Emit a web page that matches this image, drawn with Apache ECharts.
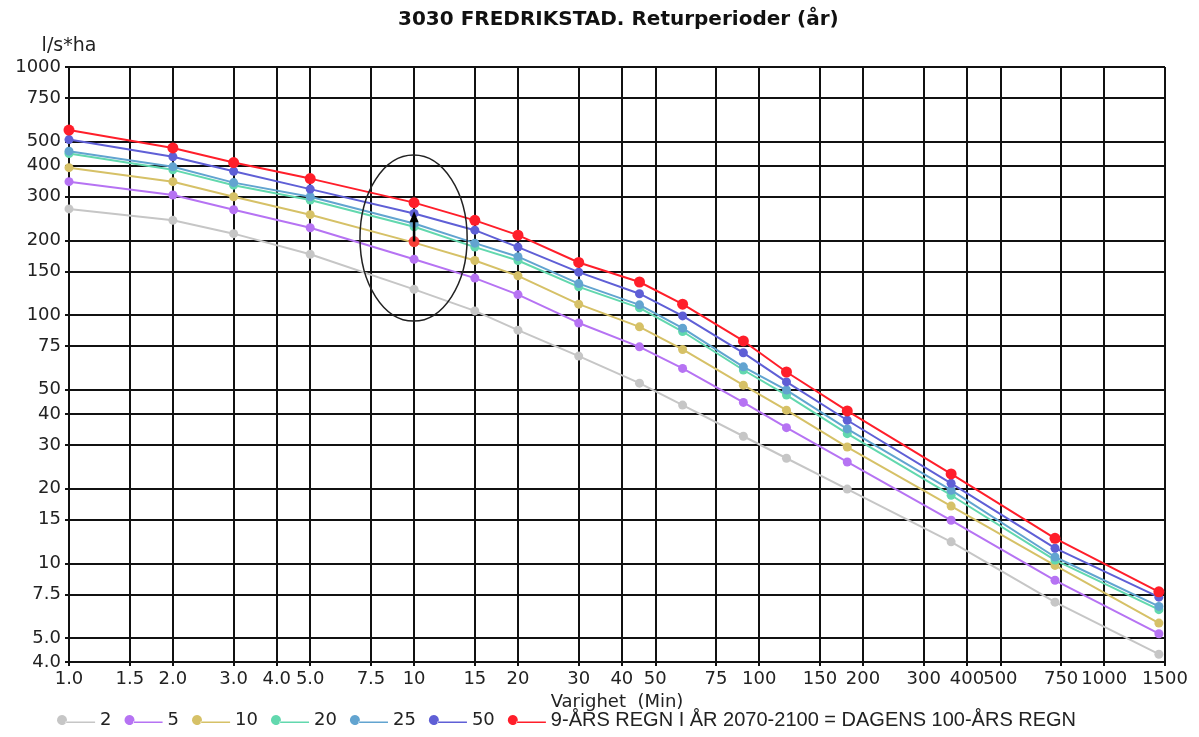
<!DOCTYPE html>
<html>
<head>
<meta charset="utf-8">
<script src="https://cdn.jsdelivr.net/npm/echarts@6/dist/echarts.min.js"></script>
<style>
  html, body { margin: 0; padding: 0; background: #fff; }
  #chart { width: 1199px; height: 737px; }
</style>
</head>
<body>
<div id="chart"></div>
<script>
// Duration (minutes) of each rainfall event
const durations = [1, 2, 3, 5, 10, 15, 20, 30, 45, 60, 90, 120, 180, 360, 720, 1440];

// Intensity (l/s*ha) per return period
const rp2  = [268, 241, 213, 176, 127, 104, 87, 68.4, 53.2, 43.4, 32.5, 26.5, 19.9, 12.2, 6.97, 4.30];
const rp5  = [345, 305, 266, 225, 168, 141, 121, 93, 74.5, 61, 44.5, 35.2, 25.6, 14.9, 8.54, 5.20];
const rp10 = [393, 345, 300, 254, 196, 166, 144, 110.7, 89.7, 72.7, 52.2, 41.4, 29.4, 17.0, 9.8, 5.74];
const rp20 = [448, 385, 334, 291, 227, 188, 166, 130, 107, 85.9, 60.1, 47.6, 33.3, 18.8, 10.3, 6.5];
const rp25 = [458, 396, 342, 300, 234, 195, 172, 134, 110, 88.6, 61.9, 49.9, 34.8, 19.7, 10.6, 6.7];
const rp50 = [510, 435, 380, 322, 257, 220, 188, 149, 122, 99.3, 70.5, 53.8, 37.7, 21.0, 11.5, 7.3];
const rpFuture = [557, 472, 412, 355, 284, 241, 210, 163, 136, 110.7, 78.7, 59, 41.1, 22.9, 12.6, 7.67];

// Today's value at 10 min, and where the arrow points to
const todayPoint = [10, 198];
const arrowTip = [10, 262];

// Circled region around the 10 min duration (data units)
const ringX = [6.97, 14.25];
const ringY = [94.6, 442];

const seriesNames = ['2', '5', '10', '20', '25', '50', '9-ÅRS REGN I ÅR 2070-2100 = DAGENS 100-ÅRS REGN'];
const seriesColors = ['#c6c6c6', '#b673f3', '#d6c167', '#62d8ae', '#62a4d0', '#5f5fd6', '#ff1e2a'];

// Axis tick labels
const xTickLabels = ['1.0','1.5','2.0','3.0','4.0','5.0','7.5','10','15','20','30','40','50','75','100','150','200','300','400','500','750','1000','1500'];
const yTickLabels = ['4.0','5.0','7.5','10','15','20','30','40','50','75','100','150','200','300','400','500','750','1000'];

const lg = Math.log10;
const xTicks = xTickLabels.map(s => lg(parseFloat(s)));
const yTicks = yTickLabels.map(s => lg(parseFloat(s)));

function tickText(ticks, labels) {
  return function (v) {
    let best = 0;
    for (let i = 1; i < ticks.length; i++) {
      if (Math.abs(ticks[i] - v) < Math.abs(ticks[best] - v)) best = i;
    }
    return labels[best];
  };
}

const allValues = [rp2, rp5, rp10, rp20, rp25, rp50, rpFuture];

const series = allValues.map((vals, i) => ({
  name: seriesNames[i],
  type: 'line',
  data: durations.map((d, k) => [lg(d), lg(vals[k])]),
  symbol: 'circle',
  symbolSize: i === 6 ? 11 : 9,
  showSymbol: true,
  lineStyle: { width: 2, color: seriesColors[i] },
  itemStyle: { color: seriesColors[i] },
  z: 3 + i,
  animation: false
}));

series.push({
  name: 'today',
  type: 'scatter',
  data: [[lg(todayPoint[0]), lg(todayPoint[1])]],
  symbol: 'circle',
  symbolSize: 11,
  itemStyle: { color: '#ff1e2a' },
  z: 12,
  animation: false
});

const legendIcon = 'path://M0,5 A5,5 0 1,0 10,0 A5,5 0 1,0 0,5 Z M9,4.2 H42 V5.8 H9 Z';

const chart = echarts.init(document.getElementById('chart'), null, { renderer: 'canvas' });

const option = {
  backgroundColor: '#ffffff',
  animation: false,
  title: {
    text: '3030 FREDRIKSTAD. Returperioder (år)',
    left: 393,
    top: 5,
    textStyle: { fontFamily: 'DejaVu Sans', fontSize: 20, fontWeight: 'bold', color: '#111' }
  },
  grid: { left: 69, right: 34, top: 67, bottom: 75, containLabel: false },
  xAxis: {
    type: 'value',
    min: 0,
    max: lg(1500),
    name: 'Varighet  (Min)',
    nameLocation: 'middle',
    nameGap: 30,
    nameTextStyle: { fontFamily: 'DejaVu Sans', fontSize: 18, color: '#222' },
    axisLine: { show: true, onZero: false, lineStyle: { color: '#111', width: 2 } },
    axisTick: { show: true, length: 4, customValues: xTicks, lineStyle: { color: '#111', width: 2 } },
    axisLabel: {
      customValues: xTicks,
      formatter: tickText(xTicks, xTickLabels),
      fontFamily: 'DejaVu Sans', fontSize: 18, color: '#222', margin: 8,
      showMinLabel: true, showMaxLabel: true
    },
    splitLine: { show: true, lineStyle: { color: '#111', width: 2 } }
  },
  yAxis: {
    type: 'value',
    min: lg(4),
    max: 3,
    name: 'l/s*ha',
    nameLocation: 'end',
    nameGap: 11,
    nameTextStyle: { fontFamily: 'DejaVu Sans', fontSize: 19, color: '#222', align: 'center' },
    axisLine: { show: true, lineStyle: { color: '#111', width: 2 } },
    axisTick: { show: true, length: 4, customValues: yTicks, lineStyle: { color: '#111', width: 2 } },
    axisLabel: {
      customValues: yTicks,
      formatter: tickText(yTicks, yTickLabels),
      fontFamily: 'DejaVu Sans', fontSize: 18, color: '#222', margin: 8,
      showMinLabel: true, showMaxLabel: true
    },
    splitLine: { show: true, lineStyle: { color: '#111', width: 2 } }
  },
  legend: {
    data: seriesNames,
    left: 52,
    top: 705,
    itemWidth: 42,
    itemHeight: 10,
    itemGap: 13,
    icon: legendIcon,
    formatter: function (name) {
      return name.length > 3 ? '{w|' + name + '}' : '{n|' + name + '}';
    },
    textStyle: {
      color: '#222',
      padding: [0, 0, 0, -2],
      rich: {
        n: { fontFamily: 'DejaVu Sans', fontSize: 18, color: '#222' },
        w: { fontFamily: 'Liberation Sans', fontSize: 20, color: '#222' }
      }
    }
  },
  series: series
};

chart.setOption(option);

// Ellipse around the 10 min duration column, and the arrow from today's value upward
const p1 = chart.convertToPixel({ gridIndex: 0 }, [lg(ringX[0]), lg(ringY[1])]);
const p2 = chart.convertToPixel({ gridIndex: 0 }, [lg(ringX[1]), lg(ringY[0])]);
const a0 = chart.convertToPixel({ gridIndex: 0 }, [lg(todayPoint[0]), lg(todayPoint[1])]);
const a1 = chart.convertToPixel({ gridIndex: 0 }, [lg(arrowTip[0]), lg(arrowTip[1])]);
const headLen = 11, headHalf = 4.5;
chart.setOption({
  graphic: [
    {
      type: 'ellipse',
      z: 20,
      shape: {
        cx: (p1[0] + p2[0]) / 2,
        cy: (p1[1] + p2[1]) / 2,
        rx: Math.abs(p2[0] - p1[0]) / 2,
        ry: Math.abs(p2[1] - p1[1]) / 2
      },
      style: { fill: 'none', stroke: '#222', lineWidth: 1.5 }
    },
    {
      type: 'line',
      z: 21,
      shape: { x1: a0[0], y1: a0[1], x2: a1[0], y2: a1[1] + headLen - 1 },
      style: { stroke: '#000', lineWidth: 2.5 }
    },
    {
      type: 'polygon',
      z: 21,
      shape: { points: [[a1[0], a1[1]], [a1[0] - headHalf, a1[1] + headLen], [a1[0] + headHalf, a1[1] + headLen]] },
      style: { fill: '#000' }
    }
  ]
});
</script>
</body>
</html>
